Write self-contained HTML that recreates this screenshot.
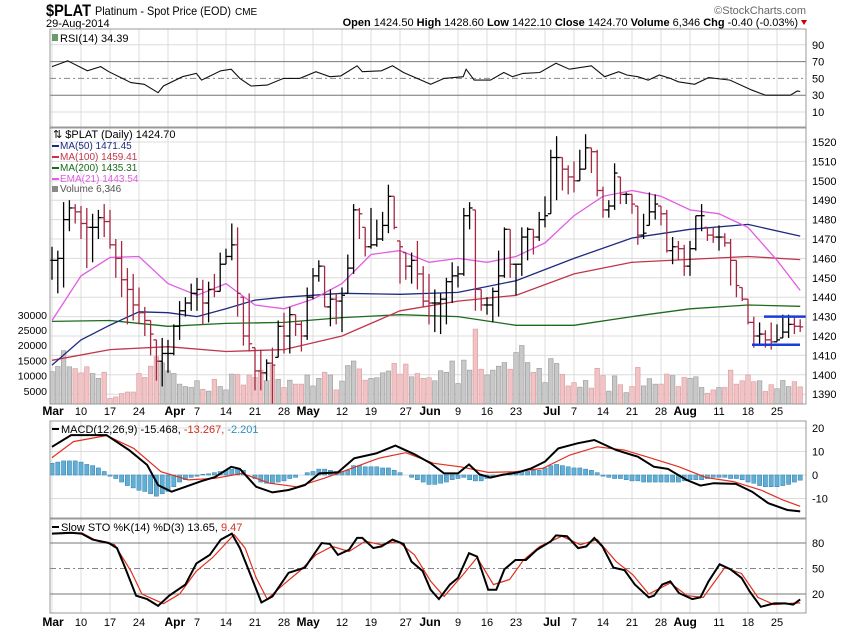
<!DOCTYPE html>
<html><head><meta charset="utf-8">
<style>
html,body{margin:0;padding:0;background:#fff;}
svg{display:block;font-family:"Liberation Sans",sans-serif;}
</style></head>
<body>
<svg id="chart" width="850" height="633" viewBox="0 0 850 633" xmlns="http://www.w3.org/2000/svg">
<defs>
<clipPath id="cRsi"><rect x="50" y="29" width="756" height="98"/></clipPath>
<clipPath id="cMain"><rect x="50" y="128" width="756" height="276"/></clipPath>
<clipPath id="cMacd"><rect x="50" y="421" width="756" height="97"/></clipPath>
<clipPath id="cSto"><rect x="50" y="519" width="756" height="94"/></clipPath>
</defs>
<g>
<text x="46" y="16" font-size="17" font-weight="bold" textLength="45" lengthAdjust="spacingAndGlyphs">$PLAT</text>
<text x="95" y="15" font-size="12" textLength="136" lengthAdjust="spacingAndGlyphs">Platinum - Spot Price (EOD)</text>
<text x="235" y="15" font-size="10">CME</text>
<text x="46" y="27" font-size="11">29-Aug-2014</text>
<text x="806" y="14" font-size="11" fill="#666" text-anchor="end">©StockCharts.com</text>
<text x="798" y="26" font-size="11" text-anchor="end"><tspan font-weight="bold">Open</tspan> 1424.50 <tspan font-weight="bold">High</tspan> 1428.60 <tspan font-weight="bold">Low</tspan> 1422.10 <tspan font-weight="bold">Close</tspan> 1424.70 <tspan font-weight="bold">Volume</tspan> 6,346 <tspan font-weight="bold">Chg</tspan> -0.40 (-0.03%)</text>
<path d="M801 20 L807 20 L804 25 Z" fill="#c00"/>
</g>
<g id="grid"></g>
<g id="layers"></g>
</svg>
<script>
// ---------- data ----------
const closes=[1459,1460,1480,1486,1484, 1478,1476,1476,1481,1479, 1467,1460,1449,1444,1436, 1432,1428,1421,1407,1411, 1411,1425,1433,1437,1442, 1444,1437,1444,1443,1457, 1461,1467,1442,1420,1416, 1402,1401,1406,1405,1425, 1420,1431,1426,1420,1440, 1451,1456,1435,1439,1438, 1441,1455,1485,1483,1466, 1467,1470,1477,1492,1476, 1466,1456,1459,1452,1438, 1437,1437,1439,1448,1451, 1452,1482,1486,1444,1436, 1436,1443,1451,1475,1457, 1457,1471,1475,1471,1480, 1482,1512,1512,1506,1502, 1500,1506,1517,1515,1495, 1485,1487,1504,1493,1493, 1488,1472,1473,1484,1488, 1483,1464,1466,1465,1456, 1465,1482,1482,1472,1471, 1471,1468,1459,1446,1439, 1427,1420,1421,1418,1417, 1418,1422,1426,1425,1424.7];
const highs=[1466,1464,1489,1490,1488, 1487,1486,1483,1485,1488, 1485,1470,1469,1455,1452, 1445,1435,1428,1418,1419, 1418,1426,1438,1440,1447, 1450,1449,1448,1452,1463, 1465,1478,1476,1440,1442, 1414,1413,1408,1414,1428, 1432,1435,1431,1428,1445, 1455,1459,1456,1444,1442, 1445,1462,1488,1486,1476, 1486,1480,1484,1498,1492, 1469,1463,1463,1469,1456, 1452,1444,1442,1450,1458, 1456,1486,1489,1485,1444, 1440,1445,1464,1476,1475, 1457,1476,1476,1475,1484, 1492,1516,1523,1512,1508, 1510,1516,1524,1517,1516, 1497,1490,1509,1502,1494, 1493,1487,1483,1494,1493, 1487,1485,1471,1469,1467, 1469,1482,1488,1476,1476, 1477,1473,1470,1459,1445, 1439,1430,1427,1423,1427, 1426,1431,1431,1430,1428.6];
const lows=[1449,1442,1445,1474,1478, 1470,1455,1458,1470,1471, 1465,1450,1440,1426,1428, 1426,1420,1410,1397,1394, 1401,1410,1418,1430,1433, 1433,1426,1427,1440,1443, 1457,1459,1430,1415,1412, 1392,1392,1397,1383,1409, 1411,1411,1420,1412,1418, 1439,1448,1435,1425,1426, 1422,1442,1452,1470,1461, 1465,1466,1469,1473,1475, 1447,1449,1447,1444,1435, 1426,1422,1421,1426,1437, 1445,1451,1475,1433,1433, 1431,1427,1430,1450,1450, 1441,1451,1459,1462,1469, 1476,1483,1490,1495,1493, 1494,1500,1506,1504,1492, 1481,1481,1485,1488,1488, 1483,1467,1470,1477,1480, 1477,1463,1457,1459,1451, 1451,1464,1474,1469,1468, 1464,1466,1446,1440,1438, 1426,1414,1416,1414,1413, 1417,1419,1419,1421,1422.1];
const volumes=[11.3,13,18.2,12.9,12.3, 10.9,12.9,10.7,9.1,11.1, 2.5,3.0,4.1,4.6,4.6, 10.7,9.4,13.1,16.2,14.2, 11.6,10.7,7.2,6.4,6.1, 8.3,5.5,4.9,8.8,6.4, 5.3,10.5,10.4,6.9,10.2, 9.4,11.8,8.3,13.5,8.8, 6.1,8.5,7.2,7.2,10.2, 6.6,9.1,11.1,10.2,5.3, 8.2,13.3,14.8,12.2,8.5, 9.1,9.3,10.9,11.5,14.0, 10.5,13.8,9.6,10.7,9.1, 9.3,8.3,11.6,11.1,14.8, 7.4,15.1,11.8,25.3,12.1, 10.2,11.8,13.1,14.3,12.1, 17.6,19.9,14.3,11.1,12.4, 7.7,15.6,14.0,10.4,6.6, 7.7,6.2,8.4,5.9,12.4, 10.0,4.9,9.9,7.0,4.4, 6.4,12.7,6.6,9.0,7.2, 7.2,10.5,10.0,6.4,9.4, 9.1,9.6,6.1,4.2,5.3, 6.1,6.1,11.8,7.2,8.3, 10.2,8.0,8.3,4.8,7.0, 5.7,8.4,6.4,8.0,6.3];
const ma50Idx=[0,5,10,15,20,25,30,35,40,50,60,70,80,90,100,110,120,129];
const ma50Val=[1405,1418,1425.6,1432.5,1432,1430,1434,1438.5,1440,1442,1441.5,1442.5,1448.5,1460,1470.5,1475,1477.5,1471.5];
const ma100Idx=[0,10,20,30,40,50,60,70,80,90,100,110,120,129];
const ma100Val=[1407.5,1413,1414.5,1412,1413,1420,1433,1438,1441,1452,1458,1459.5,1461,1459.4];
const ma200Idx=[0,10,20,30,40,50,60,70,80,90,100,110,120,129];
const ma200Val=[1427.5,1428,1425,1426.5,1427,1429.5,1431,1430,1425.5,1425.5,1430,1434,1436,1435.3];
const emaIdx=[0,5,10,15,20,25,30,35,40,45,50,55,60,65,70,75,80,85,90,95,100,105,110,115,120,125,129];
const emaVal=[1428,1451,1460.5,1461,1447,1441,1447,1436,1434,1439,1447,1462,1464,1458,1460,1458,1461,1468,1482,1492,1495,1492,1485,1483,1476,1459,1443.5];
const rsiIdx=[0,2.7,6.1,8.4,9.8,13.6,15.9,18.3,19.2,22.5,24.9,25.8,29.1,30.9,32.4,34.3,37.1,39.9,42.7,45.5,47.9,49.8,52.6,53.5,56.8,58.7,60.6,65.3,67.6,70.9,71.4,72.8,75.6,77.9,79.4,81.2,84.1,86.9,89.2,93,95.3,97.7,99.1,101,102.8,104.7,106.6,108,110.8,113.2,116.9,120.7,123,127.3,128.5,129];
const rsiVal=[64,71,59,64,58,45,43,33,41,52,56,48,59,61,50,41,42,50,50,58,52,53,65,58,59,65,57,43,50,52,61,48,48,57,52,56,57,68,61,65,52,58,54,52,48,54,50,46,43,51,48,36,30,30,35,34.4];
const macdIdx=[0,3.3,9.4,13.3,16.4,18.3,20.6,23,25.8,28.1,30.9,32.4,35.2,38,40.8,43.6,46.1,49.3,52.1,55.9,59.2,62.5,65.3,67.6,70,71.9,73.7,75.6,77.5,80.3,82.6,85,87.3,90.6,93.5,97.3,101,103.8,106.2,109.4,111.8,114.1,117.9,120.7,123.5,126.8,129];
const macdVal=[12,17,17,10.6,4.3,-4.3,-7.1,-5,-2.6,-0.9,3.5,2.6,-5,-7.4,-6.4,-4.3,0.7,1.1,7.1,9.2,12.5,8.8,5,0.7,0.7,4.5,0.3,-1.1,0,1.1,2.8,5.7,11.3,13.5,14.9,10.6,7.8,3.5,2.6,-2.1,-4.5,-3.5,-3.8,-7.1,-12,-14.9,-15.5];
const signalIdx=[0,3.7,9.4,14.1,18.8,23.5,28.1,32.8,37.5,42.2,46.9,51.6,56.3,61,65.8,70.4,75.2,79.9,84.6,89.3,94,98.7,103.4,108.1,112.8,117.5,122.2,126,129];
const signalVal=[7.4,14.2,16.8,11.3,1.4,-2.1,-1.4,0.7,-3.5,-5,-1.4,2.8,7.1,9.5,5,3.5,1.1,1.4,2.8,8.5,12,10.6,7.1,3.5,-1.1,-2.8,-6.4,-10.6,-13.3];
const histVals=[5,5.5,6,6,6,5.5,4.5,4,3,1.5, -0.5,-1.5,-3,-4.5,-5.5,-6.5,-7,-8,-9,-8, -7,-5,-3,-2,-1,-0.5,0.3,0.5,1,1.5, 2,2.5,2.5,2,0,-1.5,-3,-3.5,-3.5,-3, -2.5,-1.5,-1,0,1,1.5,2.5,2.5,2,1.5, 1.5,2,4,4,3.5,3.5,3.5,3,3,2, 1,0,-1,-2,-3,-4,-4,-3.5,-3,-2, -1.5,-1,-2,-2.5,-2.5,-1.5,-0.5,0,0.5,1, 1.5,1.5,1.5,2,2,3,4,4.5,4,3.5, 3,3,2.5,2,1,-0.5,-1,-1.5,-1.5,-2, -2.5,-2.5,-3,-3,-3,-3,-3,-3,-3,-2.5, -2,-2,-2,-1.5,-1,-1,-1,-1.5,-1.5,-2, -3,-3.5,-4.5,-5,-5,-5,-4.5,-4,-3,-2.2];
const stoKIdx=[0,3.2,5.1,7,9.8,11.2,12.6,14.5,16.4,18.3,20.2,23,24.9,27.2,29.1,31,32.4,34.2,36.1,38,40.8,43.6,46.5,47.9,49.3,51.2,52.6,53.5,55.4,56.8,58.7,60.6,62,63.9,65.3,66.7,68.6,70,71.9,73.3,75.2,76.6,78,79.9,81.7,83.6,86,86.9,88.8,90.7,92.1,93.5,94.9,96.8,98.7,100.5,102.9,103.8,105.2,106.6,108.1,110.4,111.8,113.2,115.1,117,118.9,120.3,122.2,124.5,126.4,127.8,129];
const stoKVal=[91,92,91,84,80,74,51,18,14,6,18,31,56,66,84,91,74,43,10,17,45,51,80,79,66,72,86,86,74,76,84,79,58,47,25,14,31,39,68,64,25,25,49,60,60,72,82,89,88,74,76,86,76,51,48,31,16,18,31,35,21,14,16,35,55,49,39,23,5,9,9,7.5,13.7];
const stoDIdx=[0,5.1,7.9,10.8,13.6,15.5,19.2,22,24.9,27.7,31.4,33.3,35.2,37.1,39.9,42.7,45.5,48.3,51.2,54,56.8,59.6,62.5,65.3,67.6,70.9,73.3,76.1,78.9,81.3,84.1,87.9,91.1,94,97.3,100.1,102.9,106.6,109.5,112.3,116,118.9,121.7,124.5,127.3,129];
const stoDVal=[90.6,92,82,78,47,20,8.6,20,47,63,90,74,39,14,31,47,66,76,70,82,78,82,66,35,17,43,63,31,37,60,76,88,78,84,58,43,20,33,18,16,51,44,16,7.5,9,9.5];
const priceTicks=[1520,1510,1500,1490,1480,1470,1460,1450,1440,1430,1420,1410,1400,1390];
const volTicks=[30000,25000,20000,15000,10000,5000];
const rsiTicks=[90,70,50,30,10];
const macdTicks=[20,10,0,-10];
const stoTicks=[80,50,20];
const dateIdx=[0,5,10,15,21,25,30,35,40,44,50,55,61,65,70,75,80,86,90,95,100,105,109,115,120,125];
const dateLbl=["Mar","10","17","24","Apr","7","14","21","28","May","12","19","27","Jun","9","16","23","Jul","7","14","21","28","Aug","11","18","25"];
const gridIdx=[0,5,10,15,20,25,30,35,40,45,50,55,60,65,70,75,80,85,90,95,100,105,110,115,120,125];

// ---------- scales ----------
const L=50,R=806;
const x=i=>52+5.8*i;
const yP=p=>142+(1520-p)*1.94;
const yV=v=>406-v*3.04;
const yR=v=>112-(v-10)*0.84;
const yM=v=>475-v*2.35;
const yS=v=>543+(80-v)*0.85;
const NS="http://www.w3.org/2000/svg";
const svg=document.getElementById('chart');
const grid=document.getElementById('grid');
const layers=document.getElementById('layers');
function mk(tag,attrs,parent){const e=document.createElementNS(NS,tag);for(const k in attrs)e.setAttribute(k,attrs[k]);(parent||layers).appendChild(e);return e;}
function grp(clip){const g=document.createElementNS(NS,'g');if(clip)g.setAttribute('clip-path','url(#'+clip+')');layers.appendChild(g);return g;}
function path(idx,vals,fy){return idx.map((i,k)=>(k?'L':'M')+x(i).toFixed(1)+' '+fy(vals[k]).toFixed(1)).join(' ');}

const panels=[[29,127],[128,404],[421,518],[519,613]];
panels.forEach(([t,b])=>{
  gridIdx.forEach(i=>{
    const ln=mk('line',{x1:x(i),x2:x(i),y1:t,y2:b,stroke:'#dcdcdc','stroke-width':1},grid);
    
    
  });
});
priceTicks.forEach(p=>{
  const ln=mk('line',{x1:L,x2:R,y1:yP(p),y2:yP(p),stroke:'#dcdcdc'},grid);
  
  
  const t=mk('text',{x:812,y:yP(p)+4,'font-size':11,fill:'#000'});
  t.textContent=p;
  
  
});
volTicks.forEach(v=>{
  const t=mk('text',{x:47,y:yV(v/1000)+4,'font-size':10.5,'text-anchor':'end'});
  t.textContent=v;
  
  
});
rsiTicks.forEach(v=>{
  const ln=mk('line',{x1:L,x2:R,y1:yR(v),y2:yR(v),stroke:(v==70||v==30)?'#777':(v==50?'#888':'#dcdcdc'),'stroke-dasharray':v==50?'6,3,2,3':'none'},grid);
  
  
  const t=mk('text',{x:812,y:yR(v)+4,'font-size':11});
  t.textContent=v;
  
  
});
macdTicks.forEach(v=>{
  const ln=mk('line',{x1:L,x2:R,y1:yM(v),y2:yM(v),stroke:'#dcdcdc'},grid);
  
  
  const t=mk('text',{x:812,y:yM(v)+4,'font-size':11});
  t.textContent=v;
  
  
});
stoTicks.forEach(v=>{
  const ln=mk('line',{x1:L,x2:R,y1:yS(v),y2:yS(v),stroke:v==50?'#888':'#777','stroke-dasharray':v==50?'6,3,2,3':'none'},grid);
  
  
  const t=mk('text',{x:812,y:yS(v)+4,'font-size':11});
  t.textContent=v;
  
  
});
[411,622].forEach(yy=>{
  dateIdx.forEach((i,k)=>{
    const bold=isNaN(+dateLbl[k]);
    const t=mk('text',{x:x(i)+(bold?1:0),y:yy+4,'font-size':bold?12:11,'font-weight':bold?'bold':'normal','text-anchor':'middle'});
    t.textContent=dateLbl[k];
    
    
  });
});

// ---------- RSI ----------
const gR=grp('cRsi');
const rl=mk('path',{d:path(rsiIdx,rsiVal,yR),fill:'none',stroke:'#111','stroke-width':1.1},gR);



// ---------- Main ----------
const gM=grp('cMain');
volumes.forEach((v,i)=>{
  const down=i>0&&closes[i]<closes[i-1];
  const r=mk('rect',{x:x(i)-2.3,y:yV(v),width:4.6,height:406-yV(v),fill:down?'#f1c3c5':'#c8c8c8',stroke:down?'#d99a9e':'#9a9a9a','stroke-width':0.6},gM);
  
  
});
[[ma200Idx,ma200Val,'#1c6b1c','ma200-line'],[ma100Idx,ma100Val,'#c0364a','ma100-line'],[ma50Idx,ma50Val,'#1d2a80','ma50-line'],[emaIdx,emaVal,'#e45ce4','ema21-line']].forEach(([ix,vl,c,n])=>{
  const p=mk('path',{d:path(ix,vl,yP),fill:'none',stroke:c,'stroke-width':1.3},gM);
  
  
});
closes.forEach((c,i)=>{
  const down=i>0&&c<closes[i-1];
  const col=down?'#a52843':'#000';
  let o=i>0?closes[i-1]:c; o=Math.min(highs[i],Math.max(lows[i],o));
  const g=mk('g',{stroke:col,'stroke-width':1.3},gM);
  
  
  mk('line',{x1:x(i),x2:x(i),y1:yP(highs[i]),y2:yP(lows[i])},g);
  mk('line',{x1:x(i)-3,x2:x(i),y1:yP(o),y2:yP(o)},g);
  mk('line',{x1:x(i),x2:x(i)+3,y1:yP(c),y2:yP(c)},g);
});
const sr1=mk('line',{x1:764,x2:806,y1:yP(1430),y2:yP(1430),stroke:'#1a3fd8','stroke-width':2.5},gM);


const sr2=mk('line',{x1:752,x2:800,y1:yP(1415.5),y2:yP(1415.5),stroke:'#1a3fd8','stroke-width':2.5},gM);



// ---------- MACD ----------
const gC=grp('cMacd');
histVals.forEach((h,i)=>{
  const r=mk('rect',{x:x(i)-2.1,y:Math.min(yM(0),yM(h)),width:4.2,height:Math.abs(yM(h)-yM(0)),fill:'#62afd6',stroke:'#2f7fae','stroke-width':0.5},gC);
  
  
});
const sg=mk('path',{d:path(signalIdx,signalVal,yM),fill:'none',stroke:'#e0301e','stroke-width':1.2},gC);


const md=mk('path',{d:path(macdIdx,macdVal,yM),fill:'none',stroke:'#000','stroke-width':2},gC);



// ---------- STO ----------
const gS=grp('cSto');
const sd=mk('path',{d:path(stoDIdx,stoDVal,yS),fill:'none',stroke:'#e0301e','stroke-width':1.2},gS);


const sk=mk('path',{d:path(stoKIdx,stoKVal,yS),fill:'none',stroke:'#000','stroke-width':2},gS);



panels.forEach(([t,b])=>{
  const r=mk('rect',{x:L,y:t,width:R-L,height:b-t,fill:'none',stroke:'#999','stroke-width':1});
  
  
});
</script>
<script>
const s2=document.getElementById('chart');
const lg=document.createElementNS("http://www.w3.org/2000/svg",'g');


lg.innerHTML=
'<rect x="52" y="34" width="6" height="7" fill="#6a9a6a"/>'+
'<text x="60" y="42" font-size="11">RSI(14) 34.39</text>'+
'<text x="53" y="138" font-size="11">⇅ $PLAT (Daily) 1424.70</text>'+
'<line x1="52" x2="59" y1="146" y2="146" stroke="#1d2a80" stroke-width="2"/>'+
'<text x="60" y="149" font-size="10" fill="#1d2a80">MA(50) 1471.45</text>'+
'<line x1="52" x2="59" y1="157" y2="157" stroke="#c0364a" stroke-width="2"/>'+
'<text x="60" y="160" font-size="10" fill="#c0364a">MA(100) 1459.41</text>'+
'<line x1="52" x2="59" y1="168" y2="168" stroke="#1c6b1c" stroke-width="2"/>'+
'<text x="60" y="171" font-size="10" fill="#1c6b1c">MA(200) 1435.31</text>'+
'<line x1="52" x2="59" y1="179" y2="179" stroke="#e45ce4" stroke-width="2"/>'+
'<text x="60" y="182" font-size="10" fill="#e45ce4">EMA(21) 1443.54</text>'+
'<rect x="52" y="186" width="6" height="6" fill="#888"/>'+
'<text x="60" y="192" font-size="10" fill="#555">Volume 6,346</text>'+
'<line x1="52" x2="59" y1="429" y2="429" stroke="#000" stroke-width="2"/>'+
'<text x="61" y="433" font-size="11">MACD(12,26,9) -15.468, <tspan fill="#d0301e">-13.267, </tspan><tspan fill="#2f8fbe">-2.201</tspan></text>'+
'<line x1="52" x2="59" y1="527" y2="527" stroke="#000" stroke-width="2"/>'+
'<text x="61" y="531" font-size="11">Slow STO %K(14) %D(3) 13.65, <tspan fill="#d0301e">9.47</tspan></text>';
s2.appendChild(lg);
</script>
</body></html>
